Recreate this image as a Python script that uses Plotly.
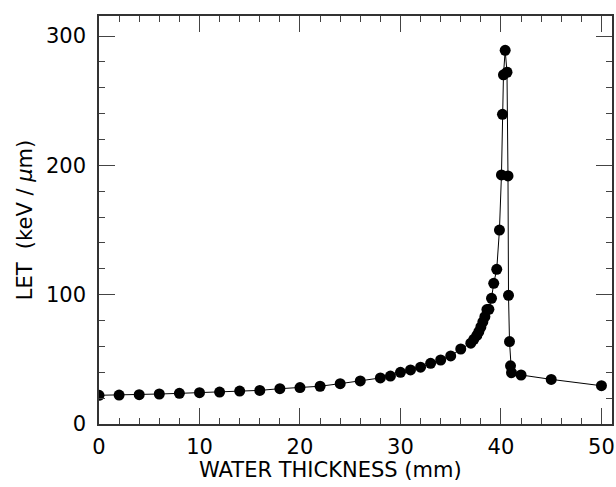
import plotly.graph_objects as go

thickness_mm = [0, 2, 4, 6, 8, 10, 12, 14, 16, 18, 20, 22, 24, 26, 28, 29, 30, 31, 32, 33, 34, 35, 36,
                37.0, 37.3, 37.6, 37.8, 38.0, 38.2, 38.4, 38.6, 38.8, 39.06, 39.28, 39.58, 39.85,
                40.05, 40.15, 40.25, 40.42, 40.6, 40.7, 40.75, 40.85, 40.95, 41.05, 42, 45, 50]
let_kev_um = [22.2, 22.4, 22.7, 23.2, 23.7, 24.2, 24.7, 25.5, 26.0, 27.3, 28.2, 29.2, 31.2, 33.3, 35.6, 37.1,
              40.0, 41.8, 43.9, 46.9, 49.5, 52.6, 58.0,
              62.5, 65.5, 68.5, 71.5, 75.0, 79.0, 83.0, 88.5, 88.7, 97.2, 108.8, 119.6, 150.0,
              192.6, 239.5, 270.0, 289.0, 272.0, 191.8, 99.5, 63.7, 45.0, 39.7, 37.9, 34.5, 29.6]

x_ticks = [0, 10, 20, 30, 40, 50]
y_ticks = [0, 100, 200, 300]

font = dict(family="DejaVu Sans", size=21, color="black")

fig = go.Figure(go.Scatter(
    x=thickness_mm, y=let_kev_um, mode="lines+markers",
    line=dict(color="black", width=1),
    marker=dict(color="black", size=11),
    showlegend=False,
))

axis_common = dict(
    showgrid=False, zeroline=False, showline=True, linecolor="#333", linewidth=1.5,
    mirror="ticks", ticks="inside", ticklen=16, tickwidth=1, tickcolor="#444",
    tickfont=font,
)
fig.update_xaxes(range=[0, 51.05], tickvals=x_ticks, ticktext=[str(v) for v in x_ticks],
                 ticklabelstandoff=3,
                 minor=dict(dtick=2, tick0=0, ticks="inside", ticklen=6, tickcolor="#444", tickwidth=1),
                 **axis_common)
fig.update_yaxes(range=[0, 315.5], tickvals=y_ticks, ticktext=[str(v) for v in y_ticks],
                 ticklabelstandoff=7,
                 minor=dict(dtick=20, tick0=0, ticks="inside", ticklen=6, tickcolor="#444", tickwidth=1),
                 **axis_common)

fig.update_layout(
    width=616, height=487,
    margin=dict(l=99, r=2, t=16, b=63),
    paper_bgcolor="white", plot_bgcolor="white",
    annotations=[
        dict(text="WATER THICKNESS (mm)", xref="paper", yref="paper", x=0.452, y=-0.1127,
             xanchor="center", yanchor="middle", showarrow=False, font=font),
        dict(text="LET  (keV / <i>μ</i>m)", xref="paper", yref="paper", x=-0.1437, y=0.5,
             xanchor="center", yanchor="middle", showarrow=False, textangle=-90, font=font),
    ],
)

fig.write_html(
    "out.html",
    config={"displayModeBar": False},
    post_script="document.body.style.margin='0';document.body.style.overflow='hidden';",
)
